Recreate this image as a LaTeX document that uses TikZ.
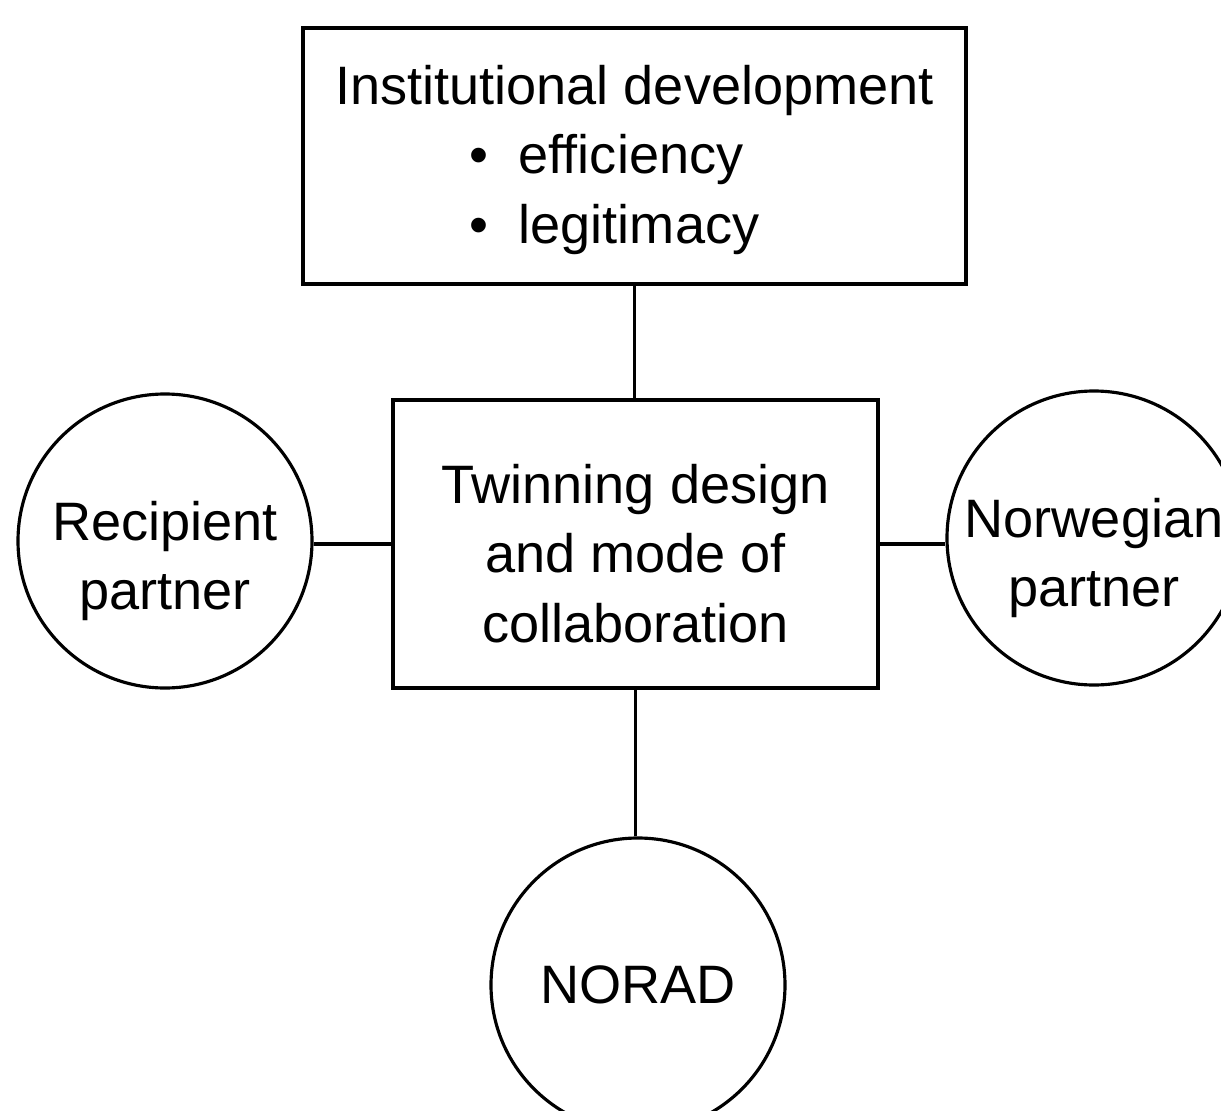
\documentclass[tikz,border=0pt]{standalone}
\usepackage{fontspec}
\setmainfont{Liberation Sans}
\usetikzlibrary{positioning}

\newcommand{\textlines}[2]{\raisebox{#1}[\height][\depth]{\begin{tabular}{@{}c@{}}#2\end{tabular}}}

\begin{document}
\begin{tikzpicture}[
	box/.style={draw, line width=0.9pt, inner sep=0pt, align=center},
	partner/.style={draw, circle, line width=0.9pt, minimum size=2.94cm, inner sep=0pt, align=center},
	every node/.style={font=\fontsize{15.4}{19.9}\selectfont}
]
	%\draw[help lines] (0,0) grid (12,11);
	\useasboundingbox (0,0) rectangle (12.21,11.10);
	\clip (0,0) rectangle (12.21,11.10);
	\node[box, minimum width=6.63cm, minimum height=2.56cm] (inst) at (6.345,9.54) {\textlines{-0.04cm}{Institutional development\\ \hspace*{-0.4cm}\begin{tabular}[t]{@{}l@{}}\textbullet\ \ efficiency\\ \textbullet\ \ legitimacy\end{tabular}}};
	\node[box, minimum width=4.85cm, minimum height=2.88cm] (twin) at (6.355,5.66) {\textlines{-0.15cm}{Twinning design\\ and mode of\\ collaboration}};
	\node[partner] (recip) at (1.65,5.69) {\textlines{-0.2cm}{Recipient\\ partner}};
	\node[partner] (norw) at (10.94,5.72) {\textlines{-0.2cm}{Norwegian\\ partner}};
	\node[partner] (norad) at (6.38,1.25) {NORAD};
	\draw[line width=0.9pt] (inst.south) -- (inst.south |- twin.north);
	\draw[line width=0.9pt] (twin.south) -- (twin.south |- norad.north);
	\draw[line width=0.9pt] (twin.west) -- (twin.west -| recip.east);
	\draw[line width=0.9pt] (twin.east) -- (twin.east -| norw.west);
\end{tikzpicture}
\end{document}
